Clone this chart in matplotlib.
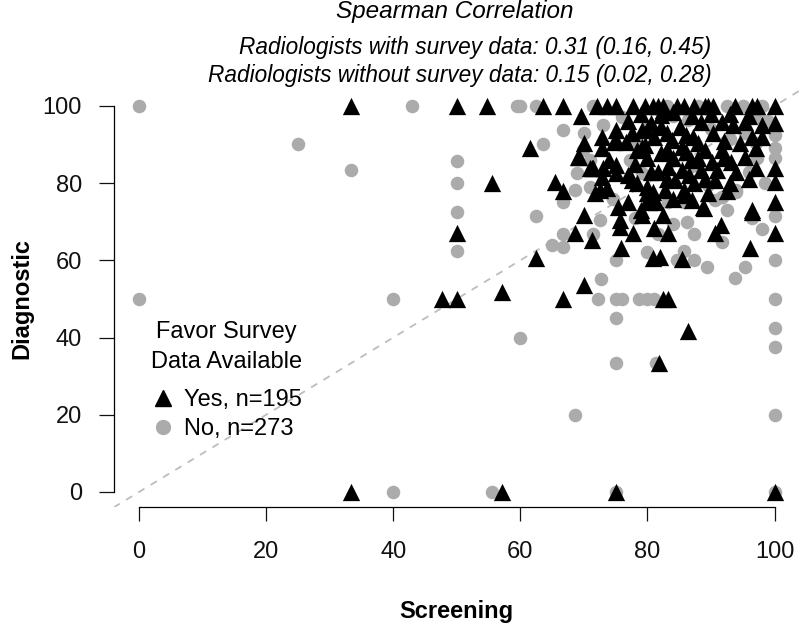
import numpy as np
import matplotlib.pyplot as plt
from matplotlib.lines import Line2D

plt.rcParams['font.family'] = ['Liberation Sans', 'DejaVu Sans']

# radiologists with survey data (triangles)
yes_x = [33.3, 57.1, 75, 100,
         33.3, 47.6, 50, 50, 50, 54.7, 55.5, 57.1, 61.5, 62.5, 66.7, 70, 82.4, 83.3, 81.8, 86.4, 66.7, 65.5,
         63.6, 66.7, 72, 73.6, 75, 77.7, 79.6, 80.8, 81.6, 82.4, 84.7, 85.7, 87.4, 89, 89.5, 90.3, 93.7, 96.4, 97.2, 100,
         69.5, 82.2, 82.4, 100, 88.5, 91.8, 93.4, 95.3, 85.1, 82.2, 90.3, 87.1, 83.8, 94.5, 85.4, 89, 91.7, 82.2,
         95.3, 86.9, 90.1, 93.2, 83.2, 85.4, 88.5, 91, 81.6, 84.3, 87.4, 90.6, 85.8, 82.7, 100, 100, 100, 100,
         96.1, 96.5, 88.9, 91.5, 90.6, 85.7,
         70, 72.8, 72.8, 75, 75, 76.7, 78.3, 79.9, 79.6, 81.1, 69.3, 71.2, 72.8, 75, 75, 77.5, 78.3, 79.9, 80.8,
         72.5, 73.6, 71.7, 75.3, 76.9, 80.3, 81.4, 75.6, 75.6, 79.1, 82.4, 77.7, 75.9, 81.1, 83.2, 80.8, 81.9,
         85.5, 68.6, 71.2, 70, 80.3, 79.9, 69, 70.9, 71.4, 79.2, 79.2, 74.8, 88.7, 96.5,
         77, 79, 84, 87, 90, 93, 96, 98, 77.5, 80.5, 83, 86, 88, 92, 96.5, 97, 78, 80, 83, 86,
         88, 92, 94, 97, 77, 80.5, 83, 86.5, 89, 93, 96, 79, 84, 87, 89.5, 92.5, 74, 73, 98, 84]
yes_y = [0, 0, 0, 0,
         100, 50, 50, 67, 100, 100, 80, 51.8, 89, 60.6, 50, 53.6, 50, 50, 33.3, 41.7, 78, 80.3,
         100, 100, 100, 100, 100, 100, 100, 100, 100, 100, 100, 100, 100, 100, 100, 100, 100, 100, 100, 100,
         97.5, 97.7, 99, 95.5, 95.9, 95.9, 95, 95.9, 94.6, 94.6, 93, 92, 91.2, 90.4, 89.4, 88.6, 88.6, 87.8,
         86.8, 86, 85.5, 85.5, 84.2, 83.4, 83.4, 83.4, 82.9, 80.8, 80, 80.8, 78.2, 78.2, 83.9, 80.3, 75, 67,
         63.2, 73, 73.5, 69.2, 67, 77,
         90.5, 92, 89.1, 93.8, 91.2, 90.7, 88.6, 93.8, 89.9, 92, 86.8, 83.9, 81.6, 84.7, 82.6, 80.8, 80, 77.5, 77.7,
         78.2, 78.8, 77.5, 73.8, 75, 75, 75, 70.5, 68.7, 71.8, 71.8, 67, 63.2, 68.4, 67, 60.6, 60.9,
         60.4, 67, 65.3, 71.8, 76.4, 79, 86.8, 83.9, 83.9, 93.8, 89.4, 90.7, 73.8, 72.5,
         96, 98, 98.5, 97.5, 98, 98, 97.5, 95, 93, 95.5, 93, 92.5, 90.5, 91, 92, 89, 85, 86.5, 88.5, 88,
         86.5, 86.5, 83, 84, 82, 83, 81, 82, 81, 80, 81, 73, 76, 75.5, 77.5, 78, 86, 84, 92, 86.5]

# radiologists without survey data (circles)
no_x = [0, 0, 25, 33.3, 42.9, 40, 40, 55.5, 75, 100, 68.6, 100, 60, 75, 75, 81.4, 100, 100, 100,
        72.2, 75, 76, 78.6, 80, 81, 72.7, 93.7, 95.3, 89.3, 84.6, 87.4, 85.8, 80, 75, 100, 100,
        91.7, 87.4, 86.2, 81.6, 66.7, 65, 66.7, 71.4, 62.5, 50, 50, 50, 50, 66.7, 83.3, 85.7,
        90.6, 91.8, 94, 94, 59.4, 60, 62.5, 71.4, 83, 92.5, 98, 66.7, 63.5, 70, 69.8, 68.9,
        68.6, 70.9, 79.2, 79.9, 77.2, 100, 100, 100, 97.3, 86.3, 95.3, 96.5, 91.7,
        88, 95, 97.5, 99, 84, 76, 73, 90, 93, 97, 78, 71, 87, 96, 98.5, 89.5, 74.5, 92.5, 98, 78, 84, 72.5]
no_y = [100, 50, 90, 83.3, 100, 50, 0, 0, 0, 0, 20, 20, 40, 45, 33.3, 33.3, 50, 42.5, 37.5,
        50, 50, 50, 50, 50, 50, 55.2, 55.4, 58.3, 58.3, 60, 60, 62.5, 62.2, 60, 60, 71.4,
        64.8, 66.7, 70, 66.7, 66.7, 64, 63.5, 66.7, 71.4, 72.5, 62.5, 80, 85.7, 75, 75, 75,
        75.6, 76.4, 77.8, 78.2, 100, 100, 100, 100, 100, 100, 100, 93.8, 90, 93, 88.6, 82.6,
        78.2, 79, 82.6, 94.6, 86, 92.5, 89, 86.5, 86.5, 96.4, 93, 71, 76.4,
        100, 100, 97, 96, 97.5, 97, 95, 94, 91.5, 90.5, 91, 86, 84.5, 83, 80, 79.5, 76, 73, 68, 71, 69.5, 70.5]

n_yes = 195
n_no = 273

fig = plt.figure(figsize=(8, 6.28), dpi=100)
ax = fig.add_axes([0.142, 0.192, 0.858, 0.664])

grey = '#ababab'
ax.axline((0, 0), slope=1, color='#bdbdbd', lw=1.3, ls=(0, (4, 4)), zorder=1)
ax.scatter(no_x, no_y, marker='o', s=95, color=grey, linewidths=0, zorder=2)
ax.scatter(yes_x, yes_y, marker='^', s=155, color='black', linewidths=0, zorder=3)

ax.set_xlim(-4, 104)
ax.set_ylim(-4, 104)
ax.set_xticks([0, 20, 40, 60, 80, 100])
ax.set_yticks([0, 20, 40, 60, 80, 100])
for s in ['top', 'right']:
    ax.spines[s].set_visible(False)
ax.spines['left'].set_bounds(0, 100)
ax.spines['bottom'].set_bounds(0, 100)
ax.spines['left'].set_linewidth(0.9)
ax.spines['bottom'].set_linewidth(0.9)
ax.tick_params(axis='x', length=10, width=0.9, pad=14, labelsize=17, colors='#111111')
ax.tick_params(axis='y', length=10.8, width=0.9, pad=12, labelsize=17, colors='#111111')

fig.text(0.571, 0.0255, 'Screening', ha='center', va='center', fontsize=17, fontweight='bold')
fig.text(0.0275, 0.524, 'Diagnostic', ha='center', va='center', fontsize=17, fontweight='bold', rotation=90)

fig.text(0.569, 0.981, 'Spearman Correlation', ha='center', va='center', fontsize=17.5, style='italic')
fig.text(0.889, 0.925, 'Radiologists with survey data: 0.31 (0.16, 0.45)', ha='right', va='center',
         fontsize=16.3, style='italic')
fig.text(0.889, 0.879, 'Radiologists without survey data: 0.15 (0.02, 0.28)', ha='right', va='center',
         fontsize=16.3, style='italic')

handles = [Line2D([], [], marker='^', color='black', ls='', markersize=12),
           Line2D([], [], marker='o', color=grey, ls='', markersize=10)]
leg = ax.legend(handles, ['Yes, n=%d' % n_yes, 'No, n=%d' % n_no], title='Favor Survey\nData Available',
                frameon=False, fontsize=17, title_fontsize=17, loc='upper left',
                bbox_to_anchor=(151 / 800, 1 - 321 / 628), bbox_transform=fig.transFigure,
                borderpad=0, borderaxespad=0, handlelength=1.0, handletextpad=0.4, labelspacing=0.3)
leg.get_title().set_multialignment('center')
leg.get_title().set_linespacing(1.45)
leg._legend_box.sep = 12

fig.savefig('out.png', dpi=100)
